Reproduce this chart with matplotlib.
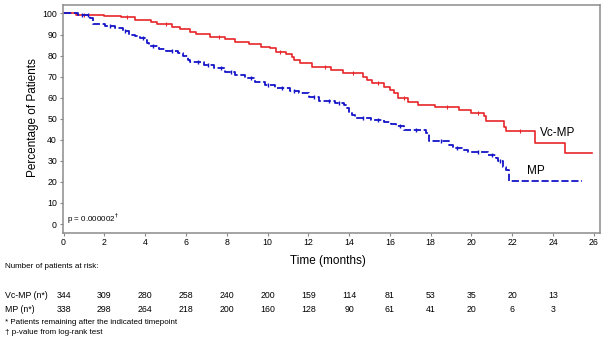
import matplotlib
matplotlib.use("Agg")
import matplotlib.pyplot as plt
import matplotlib.transforms as mtransforms
import numpy as np

plt.rcParams['font.family'] = ['Liberation Sans', 'DejaVu Sans']

# Kaplan-Meier steps (months, % of patients)
vcmp_t = [0, 0.6, 2.0, 2.8, 3.5, 4.3, 4.6, 5.3, 5.7, 6.2,
          6.5, 7.2, 7.9, 8.4, 9.1, 9.7, 10.1, 10.4, 10.9, 11.2,
          11.3, 11.6, 12.2, 13.1, 13.7, 14.7, 14.9, 15.1, 15.7, 16.0,
          16.2, 16.4, 16.9, 17.4, 18.2, 19.4, 20.0, 20.6, 20.7, 21.6,
          21.7, 23.1, 24.6]
vcmp_s = [100, 99.2, 98.7, 98.1, 97.1, 96.0, 95.0, 93.7, 92.4, 91.3,
          90.2, 88.9, 87.7, 86.5, 85.4, 84.2, 83.4, 81.8, 80.7, 79.4,
          77.8, 76.3, 74.7, 73.1, 71.5, 69.9, 68.3, 66.8, 65.2, 63.6,
          62.0, 59.7, 58.0, 56.5, 55.4, 54.3, 52.7, 51.1, 48.7, 46.3,
          44.4, 38.4, 33.9]
vcmp_end = 25.9
vcmp_cens = [1.0, 3.1, 5.0, 7.6, 10.6, 12.8, 14.2, 15.4, 16.7, 18.8, 20.3, 22.4]

mp_t = [0, 0.7, 1.3, 1.45, 2.05, 2.5, 2.9, 3.2, 3.5, 3.75,
        4.0, 4.1, 4.2, 4.7, 5.0, 5.6, 5.85, 6.1, 6.2, 6.9,
        7.4, 7.9, 8.4, 8.9, 9.4, 9.9, 10.35, 11.1, 11.55, 12.05,
        12.5, 13.3, 13.75, 13.9, 14.0, 14.15, 14.3, 15.05, 15.7, 16.05,
        16.3, 16.7, 17.75, 17.9, 18.9, 19.1, 19.6, 19.85, 20.8, 21.2,
        21.3, 21.55, 21.7, 21.85]
mp_s = [100, 99.2, 97.6, 94.8, 94.0, 93.2, 91.6, 90.0, 89.2, 88.4,
        87.6, 86.0, 84.4, 83.2, 82.4, 81.3, 79.7, 78.1, 77.0, 75.5,
        73.9, 72.3, 70.7, 69.2, 67.5, 66.0, 64.4, 63.3, 62.0, 60.4,
        58.5, 57.6, 56.5, 54.9, 53.3, 51.7, 50.5, 49.4, 48.6, 47.5,
        46.5, 44.6, 43.3, 39.6, 37.6, 36.0, 35.2, 34.1, 32.9, 31.3,
        29.7, 27.3, 25.7, 20.4]
mp_end = 25.4
mp_cens = [0.9, 1.2, 2.3, 3.0, 3.9, 4.4, 5.3, 6.6, 7.1, 7.7, 8.2, 9.2,
           10.0, 10.7, 11.3, 12.3, 13.0, 13.5, 14.7, 15.4, 16.5, 17.3,
           18.5, 19.3, 20.3, 21.0, 21.4]

risk_times = [0, 2, 4, 6, 8, 10, 12, 14, 16, 18, 20, 22, 24]
risk_vcmp = [344, 309, 280, 258, 240, 200, 159, 114, 81, 53, 35, 20, 13]
risk_mp = [338, 298, 264, 218, 200, 160, 128, 90, 61, 41, 20, 6, 3]

red = '#e8262a'
blue = '#1414c8'


def step_at(t, s, x):
    idx = np.searchsorted(t, x, side='right') - 1
    return np.asarray(s)[idx]


fig = plt.figure(figsize=(6.1, 3.46), dpi=100)
ax = fig.add_axes([0.1025, 0.3275, 0.8811, 0.658])

ax.step(vcmp_t + [vcmp_end], vcmp_s + [vcmp_s[-1]], where='post',
        color=red, lw=1.2)
ax.plot(vcmp_cens, step_at(vcmp_t, vcmp_s, vcmp_cens), ls='none',
        marker='|', ms=2.5, mew=0.8, color=red)

ax.step(mp_t + [mp_end], mp_s + [mp_s[-1]], where='post',
        color=blue, lw=1.3, ls=(0, (4, 1.5)))
ax.plot(mp_cens, step_at(mp_t, mp_s, mp_cens), ls='none',
        marker='|', ms=2.5, mew=1.0, color=blue)

ax.text(23.35, 43.2, 'Vc-MP', fontsize=8.5, va='center', ha='left')
ax.text(22.7, 25.2, 'MP', fontsize=8.5, va='center', ha='left')
ax.text(0.15, 2.5, r'p = 0.000002$^{\dagger}$', fontsize=5.8,
        va='center', ha='left')

ax.set_xlim(-0.05, 26.3)
ax.set_ylim(-4.1, 104)
ax.set_xticks(range(0, 27, 2))
ax.set_yticks(range(0, 101, 10))
ax.tick_params(labelsize=6.3, length=2, width=0.8, color='#888888', pad=2)
for sp in ax.spines.values():
    sp.set_color('#8c8c8c')
    sp.set_linewidth(1.1)

fig.text(33 / 610, 1 - 118 / 346, 'Percentage of Patients', rotation=90,
         fontsize=8.5, ha='center', va='center')
fig.text(328 / 610, 1 - 261 / 346, 'Time (months)', fontsize=8.5,
         ha='center', va='center')

# number-at-risk table under the plot
fig.text(5 / 610, 1 - 266 / 346, 'Number of patients at risk:', fontsize=5.8,
         ha='left', va='center')
trans = mtransforms.blended_transform_factory(ax.transData, fig.transFigure)
row_y = [1 - 296 / 346, 1 - 309 / 346]
fig.text(5 / 610, row_y[0], 'Vc-MP (n*)', fontsize=6.3, ha='left', va='center')
fig.text(5 / 610, row_y[1], 'MP (n*)', fontsize=6.3, ha='left', va='center')
for t, a, b in zip(risk_times, risk_vcmp, risk_mp):
    ax.text(t, row_y[0], str(a), transform=trans, fontsize=6.3,
            ha='center', va='center', clip_on=False)
    ax.text(t, row_y[1], str(b), transform=trans, fontsize=6.3,
            ha='center', va='center', clip_on=False)

fig.text(5 / 610, 1 - 322 / 346, '* Patients remaining after the indicated timepoint',
         fontsize=5.8, ha='left', va='center')
fig.text(5 / 610, 1 - 332.5 / 346, '\u2020 p-value from log-rank test',
         fontsize=5.8, ha='left', va='center')

fig.savefig('out.png', dpi=100)
